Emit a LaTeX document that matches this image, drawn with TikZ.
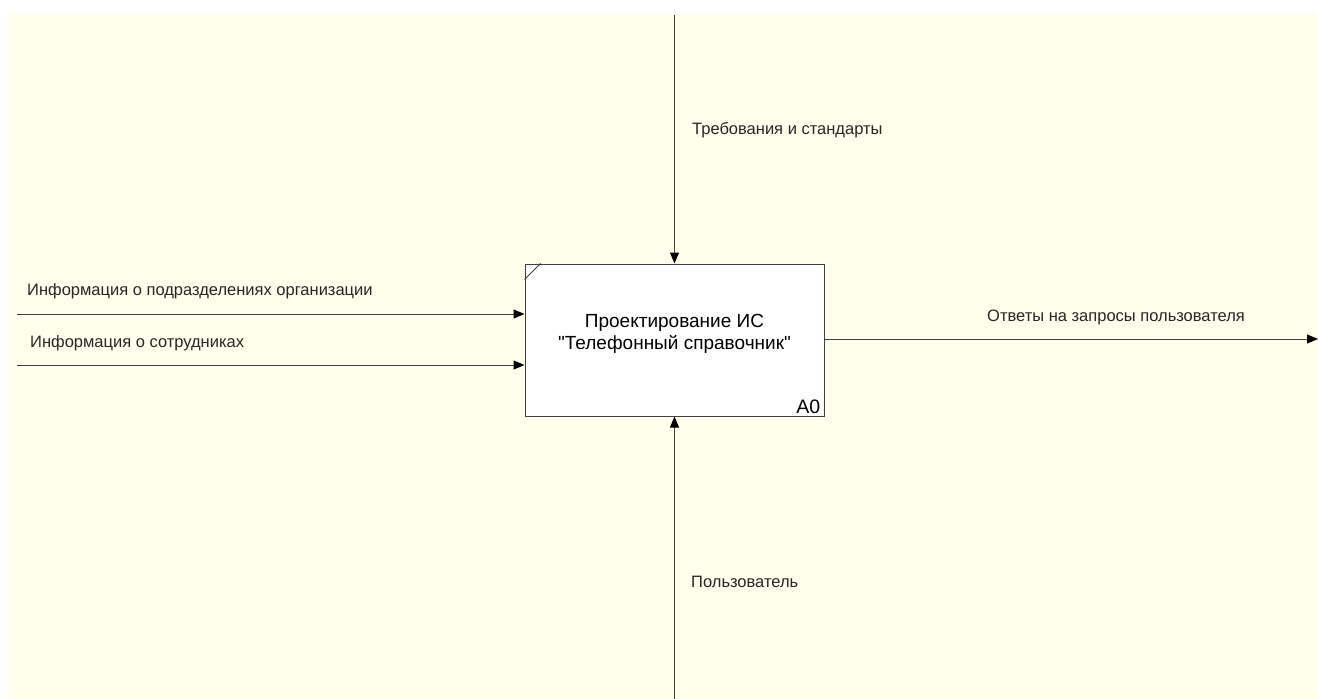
\documentclass[tikz,border=0pt]{standalone}
\usepackage{fontspec}
\setmainfont{Liberation Sans}
\usetikzlibrary{arrows.meta}
\definecolor{sheetcolor}{HTML}{FFFFEB}
\definecolor{linecolor}{HTML}{404040}
\tikzstyle{actbox} = [
    draw=linecolor,
    fill=white,
    line width=1pt,
    rectangle,
    minimum width=299pt,
    minimum height=152pt
    ]
\tikzstyle{acttitle} = [
    align=center,
    font=\fontsize{19}{22}\selectfont
    ]
\tikzstyle{arc} = [
    draw=linecolor,
    line width=1pt,
    -{Triangle[length=11pt,width=9pt,color=black]}
    ]
\tikzstyle{arclabel} = [
    font=\fontsize{16.5}{18}\selectfont,
    text=black!85,
    inner sep=0pt
    ]

\begin{document}
\begin{tikzpicture}[x=1pt,y=-1pt]
\useasboundingbox (0,0) rectangle (1318,699);
\fill[sheetcolor] (9,14) rectangle (1318,699);

% function block A0
\node [actbox] (act) at (674.5,340) {};
\node [acttitle] (actTitle) at ([yshift=6pt]act.center) {Проектирование ИС\\\textquotedbl Телефонный справочник\textquotedbl};
\draw[linecolor, line width=0.8pt] ([yshift=-16pt]act.north west) -- ([xshift=16pt]act.north west);
\node[anchor=south east, font=\fontsize{19.5}{19.5}\selectfont, inner xsep=4pt, inner ysep=3pt] (actNum) at (act.south east) {A0};

% free ends of the arcs
\coordinate (ctrl) at (674.5,15);
\coordinate (mech) at (674.5,699);
\coordinate (inA) at (17,314);
\coordinate (inB) at (17,365);
\coordinate (outA) at (1318,339);

\draw[arc] (ctrl) -- (act.north);
\draw[arc] (mech) -- (act.south);
\draw[arc] (inA) -- (act.west |- inA);
\draw[arc] (inB) -- (act.west |- inB);
\draw[arc] (act.east |- outA) -- (outA);

% arc labels
\node[arclabel, anchor=west] (ctrlLabel) at (692,130) {Требования и стандарты};
\node[arclabel, anchor=west] (mechLabel) at (691,582) {Пользователь};
\node[arclabel, anchor=west] (inALabel) at (27,291) {Информация о подразделениях организации};
\node[arclabel, anchor=west] (inBLabel) at (30,343) {Информация о сотрудниках};
\node[arclabel, anchor=west] (outALabel) at (987,317) {Ответы на запросы пользователя};
\end{tikzpicture}
\end{document}
